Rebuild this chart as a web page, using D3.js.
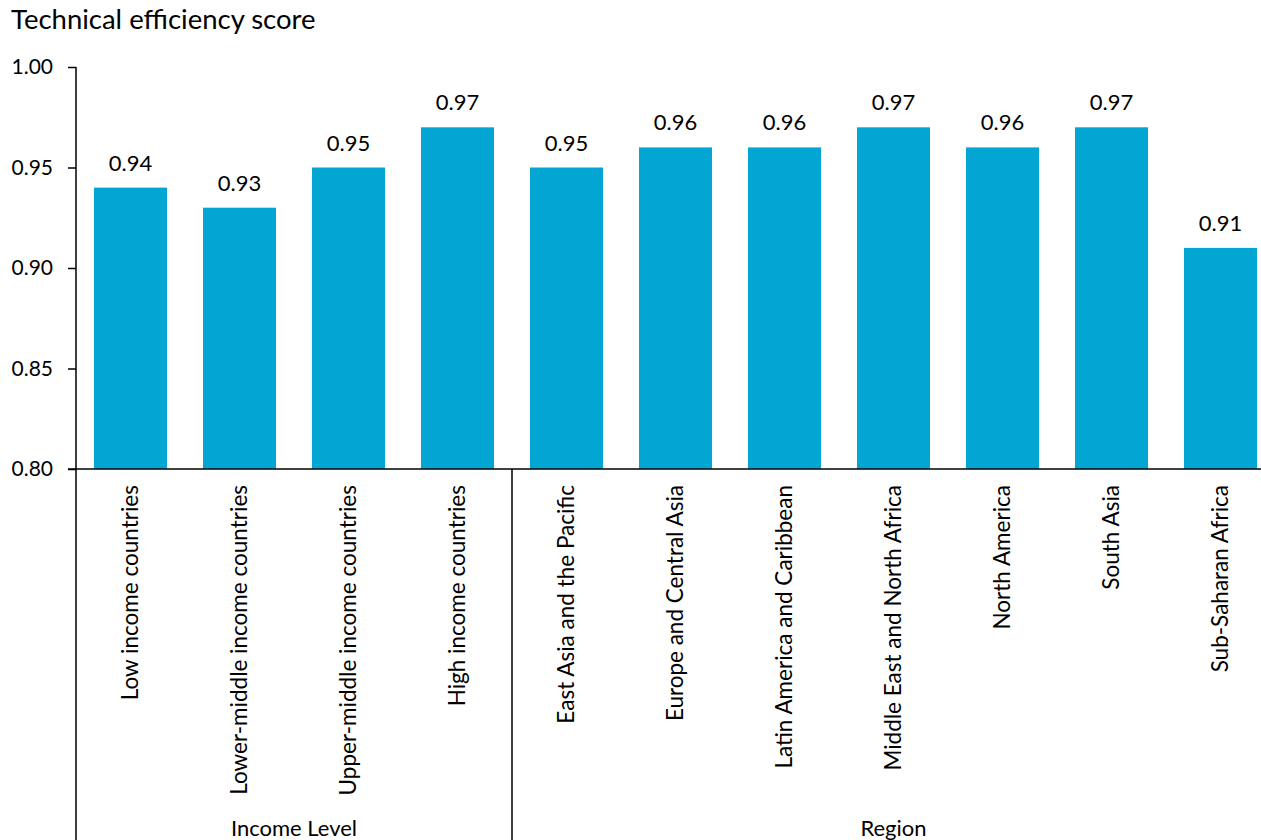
<!DOCTYPE html>
<html>
<head>
<meta charset="utf-8">
<script src="https://cdn.jsdelivr.net/npm/d3@7"></script>
<style>
  html, body { margin: 0; padding: 0; background: #fff; }
  svg { display: block; }
  text { font-family: "Lato", "Open Sans", sans-serif; fill: #000; }
</style>
</head>
<body>
<svg id="chart" width="1261" height="840"></svg>
<script>
// Technical efficiency scores by income level and by region
const categories = [
  "Low income countries",
  "Lower-middle income countries",
  "Upper-middle income countries",
  "High income countries",
  "East Asia and the Pacific",
  "Europe and Central Asia",
  "Latin America and Caribbean",
  "Middle East and North Africa",
  "North America",
  "South Asia",
  "Sub-Saharan Africa"
];
const scores = [0.94, 0.93, 0.95, 0.97, 0.95, 0.96, 0.96, 0.97, 0.96, 0.97, 0.91];
const groups = [
  { name: "Income Level", first: 0, last: 3 },
  { name: "Region", first: 4, last: 10 }
];
const yTicks = [0.80, 0.85, 0.90, 0.95, 1.00];
const yTitle = "Technical efficiency score";

const svg = d3.select("#chart");
const barColor = "#03A6D3";

const x = d3.scaleBand()
  .domain(categories)
  .range([76, 1275])
  .paddingInner(0.33)
  .paddingOuter(0.165);

const y = d3.scaleLinear()
  .domain([0.80, 1.00])
  .range([469, 67]);

// Axis title
svg.append("text")
  .attr("x", 11)
  .attr("y", 29)
  .style("font-size", "27.5px")
  .text(yTitle);

// Bars
svg.append("g").selectAll("rect")
  .data(categories)
  .join("rect")
  .attr("x", d => x(d))
  .attr("width", x.bandwidth())
  .attr("y", (d, i) => y(scores[i]))
  .attr("height", (d, i) => y(0.80) - y(scores[i]))
  .attr("fill", barColor);

// Value labels
svg.append("g").selectAll("text")
  .data(categories)
  .join("text")
  .attr("x", d => x(d) + x.bandwidth() / 2)
  .attr("y", (d, i) => y(scores[i]) - 17)
  .attr("text-anchor", "middle")
  .style("font-size", "22px")
  .text((d, i) => d3.format(".2f")(scores[i]));

// Y axis
const yAxis = d3.axisLeft(y)
  .tickValues(yTicks)
  .tickFormat(d3.format(".2f"))
  .tickSize(8)
  .tickPadding(15);

const gy = svg.append("g")
  .attr("transform", "translate(76,0)")
  .call(yAxis);
gy.select(".domain").remove();
gy.selectAll(".tick line").attr("stroke", "#000").attr("stroke-width", 1.5);
gy.selectAll(".tick text")
  .style("font-size", "21px")
  .style("font-family", "Lato, 'Open Sans', sans-serif")
  .attr("fill", "#000");

// Vertical axis line continues down through the category area
svg.append("line")
  .attr("x1", 76).attr("x2", 76)
  .attr("y1", 67).attr("y2", 840)
  .attr("stroke", "#000").attr("stroke-width", 1.5);

// Baseline
svg.append("line")
  .attr("x1", 68).attr("x2", 1275)
  .attr("y1", y(0.80)).attr("y2", y(0.80))
  .attr("stroke", "#000").attr("stroke-width", 1.5);

// Category labels, rotated
svg.append("g").selectAll("text")
  .data(categories)
  .join("text")
  .attr("transform", d => `translate(${x(d) + x.bandwidth() / 2},485) rotate(-90)`)
  .attr("text-anchor", "end")
  .attr("dy", "0.35em")
  .style("font-size", "22.5px")
  .text(d => d);

// Group separators and group labels
const step = x.step();
const groupStart = g => x(categories[g.first]) - x.paddingInner() * step / 2;
const groupEnd = g => x(categories[g.last]) + x.bandwidth() + x.paddingInner() * step / 2;

svg.append("g").selectAll("line")
  .data(groups.slice(1))
  .join("line")
  .attr("x1", g => groupStart(g)).attr("x2", g => groupStart(g))
  .attr("y1", y(0.80)).attr("y2", 840)
  .attr("stroke", "#000").attr("stroke-width", 1.5);

svg.append("g").selectAll("text")
  .data(groups)
  .join("text")
  .attr("x", g => (groupStart(g) + groupEnd(g)) / 2)
  .attr("y", 836)
  .attr("text-anchor", "middle")
  .style("font-size", "22px")
  .text(g => g.name);
</script>
</body>
</html>
